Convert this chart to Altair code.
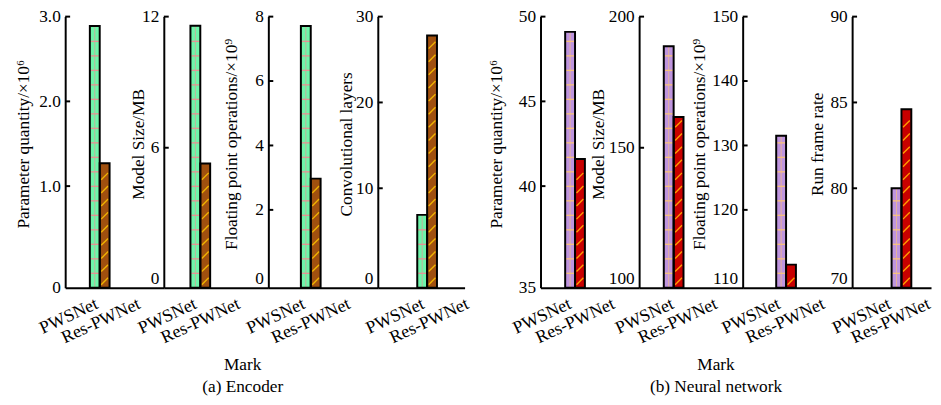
import json
import altair as alt
import pandas as pd

FONT = "Liberation Serif"
models = ["PWSNet", "Res-PWNet"]

# (a) Encoder
enc_params = [2.89, 1.27]      # parameter quantity / 1e6
enc_size = [11.58, 5.28]       # model size / MB
enc_flops = [7.71, 2.97]       # FLOPs / 1e9
enc_layers = [6.9, 27.8]       # convolutional layers
# (b) Neural network
net_params = [49.1, 41.6]
net_size = [188.7, 161.7]
net_flops = [131.5, 111.5]
net_fps = [80.0, 84.6]

enc_titles = ["Parameter quantity/×10⁶", "Model Size/MB",
              "Floating point operations/×10⁹", "Convolutional layers"]
net_titles = ["Parameter quantity/×10⁶", "Model Size/MB",
              "Floating point operations/×10⁹", "Run frame rate"]

# y tick labels
enc_ticks = [[1.0, 2.0, 3.0], [6, 12], [2, 4, 6, 8], [10, 20, 30]]
enc_bottom = ["0", "0", "0", "0"]
net_ticks = [[40, 45, 50], [150, 200], [120, 130, 140, 150], [80, 85, 90]]
net_bottom = ["35", "100", "110", "70"]

# ---- layout / style configuration ----
H = 275
BW = 10
enc_dom = [(-0.2, 3.0), (-0.41, 12), (-0.42, 8), (-1.6, 30)]
net_dom = [(34, 50), (96.6, 200), (107.9, 150), (74.2, 90)]
bottom_off = [0, 9, 9, 9]
enc_W = [100, 106, 111, 88]
net_W = [100, 105, 111, 80]
enc_b0 = [25, 27, 33, 40]
net_b0 = [25, 25, 34, 40]
enc_lab = [(28, 71), (28, 72), (32, 78), (42, 87)]
net_lab = [(26, 70), (30, 74), (33, 78), (34, 74)]
enc_tx = [-37.6, -21, -32, -27]
net_tx = [-39.7, -36, -38.7, -30]

ENC_COLORS = ("#6EF5AA", "#E39595", "#A0500F", "#F0B400")
NET_COLORS = ("#BF95DE", "#F5C080", "#C80000", "#FF9E00")


def panel(vals, dom, ticks, btxt, boff, title, tx, W, b0, lab, colors, fmt):
    lo, hi = dom
    fill1, line1, fill2, line2 = colors
    df = pd.DataFrame({"model": models, "value": vals})
    ysc = alt.Scale(domain=[lo, hi], nice=False, zero=False)
    bval = round(lo + (hi - lo) * boff / H, 6)
    axis_vals = [bval] + list(ticks)
    texts = [btxt] + [fmt(t) for t in ticks]
    lexpr = "%s[indexof(%s, datum.value)]" % (
        json.dumps(texts, ensure_ascii=False), json.dumps(axis_vals))
    yaxis = alt.Axis(values=axis_vals, labelExpr=lexpr, ticks=False, grid=False,
                     domainColor="black", domainWidth=2, labelFont=FONT,
                     labelFontSize=17.5, labelColor="black", labelPadding=5,
                     labelOverlap=False, title=title, titleFont=FONT,
                     titleFontSize=17.5, titleFontWeight="normal",
                     titleColor="black", titleX=tx, titleY=129,
                     titleBaseline="alphabetic")
    xsc = alt.Scale(type="band", domain=models, range=[b0, b0 + 2 * BW],
                    paddingInner=0, paddingOuter=0)
    xbar = alt.X("model:N", scale=xsc, axis=None)
    base = alt.Chart(df)
    fill = base.mark_bar(strokeWidth=0).encode(
        x=xbar, y=alt.Y("value:Q", scale=ysc, axis=yaxis), y2=alt.datum(lo),
        fill=alt.condition(alt.datum.model == models[0], alt.value(fill1), alt.value(fill2)))
    sh = (hi - lo) * 14.7 / H
    ss = (hi - lo) * 13.3 / H
    hatch_h = base.transform_filter(alt.datum.model == models[0]).transform_calculate(
        h="sequence(%f, datum.value - %f, %f)" % (lo + sh, sh * 0.3, sh)
    ).transform_flatten(["h"]).mark_tick(color=line1, thickness=1.4, size=BW - 2, opacity=1).encode(
        x=xbar, y=alt.Y("h:Q", scale=ysc, axis=yaxis))
    hatch_v = base.transform_filter(alt.datum.model == models[0]).mark_rule(
        color=line1, strokeWidth=1, opacity=0.7).encode(
        x=xbar, y=alt.Y("value:Q", scale=ysc, axis=yaxis), y2=alt.datum(lo))
    hatch_s = base.transform_filter(alt.datum.model == models[1]).transform_calculate(
        h="sequence(%f, datum.value - %f, %f)" % (lo + ss * 0.5, ss * 0.4, ss)
    ).transform_flatten(["h"]).mark_point(
        shape="M-0.7,0.7L0.7,-0.7", size=BW * BW, filled=False, color=line2,
        strokeWidth=1.4, opacity=1).encode(
        x=xbar, y=alt.Y("h:Q", scale=ysc, axis=yaxis))
    outline = base.mark_bar(fillOpacity=0, stroke="black", strokeWidth=2).encode(
        x=xbar, y=alt.Y("value:Q", scale=ysc, axis=yaxis), y2=alt.datum(lo))
    yt = alt.Chart(pd.DataFrame({"t": list(ticks)})).mark_rule(
        color="black", strokeWidth=2).encode(
        y=alt.Y("t:Q", scale=ysc, axis=yaxis), x=alt.value(0), x2=alt.value(5))
    xaxis = alt.Axis(title=None, labelAngle=-25, labelAlign="right", labelBaseline="top",
                     labelFont=FONT, labelFontSize=18, labelColor="black", ticks=False,
                     labelFlush=False, labelBound=False, labelOverlap=False,
                     domainColor="black", domainWidth=2, labelPadding=7, grid=False)
    # point scale over the full width, padded/aligned so the labels sit at lab[0], lab[1]
    step = lab[1] - lab[0]
    pad = (W / step - 1) / 2
    align = lab[0] / (W - step)
    xlab = alt.Chart(pd.DataFrame({"model": models})).mark_point(opacity=0).encode(
        x=alt.X("model:N", scale=alt.Scale(type="point", domain=models, padding=pad,
                                           align=align), axis=xaxis),
        y=alt.Y(datum=lo, scale=ysc, axis=yaxis))
    return alt.layer(fill, hatch_h, hatch_v, hatch_s, outline, yt, xlab).resolve_scale(
        x="independent").properties(width=W, height=H)


enc_vals = [enc_params, enc_size, enc_flops, enc_layers]
net_vals = [net_params, net_size, net_flops, net_fps]

pa = []
for i in range(4):
    fmt = (lambda v: "%.1f" % v) if i == 0 else (lambda v: "%g" % v)
    pa.append(panel(enc_vals[i], enc_dom[i], enc_ticks[i], enc_bottom[i], bottom_off[i],
                    enc_titles[i], enc_tx[i], enc_W[i], enc_b0[i], enc_lab[i], ENC_COLORS, fmt))
pb = []
for i in range(4):
    fmt = lambda v: "%g" % v
    pb.append(panel(net_vals[i], net_dom[i], net_ticks[i], net_bottom[i], bottom_off[i],
                    net_titles[i], net_tx[i], net_W[i], net_b0[i], net_lab[i], NET_COLORS, fmt))


def gtitle(lines, dx):
    return alt.Title(lines, orient="bottom", anchor="middle", font=FONT, fontSize=17.5,
                     fontWeight="normal", color="black", lineHeight=22, offset=10, dx=dx)


gA = alt.hconcat(*pa, spacing=0, bounds="flush", title=gtitle(["Mark", "(a) Encoder"], 0))
gB = alt.hconcat(*pb, spacing=0, bounds="flush", title=gtitle(["Mark", "(b) Neural network"], 6))

chart = alt.hconcat(gA, gB, spacing=16).properties(
    padding={"left": 6, "top": -3, "right": 0, "bottom": 0}
).configure(font=FONT).configure_view(stroke=None)

chart.save("out.html", embed_options={"renderer": "svg", "actions": False})
